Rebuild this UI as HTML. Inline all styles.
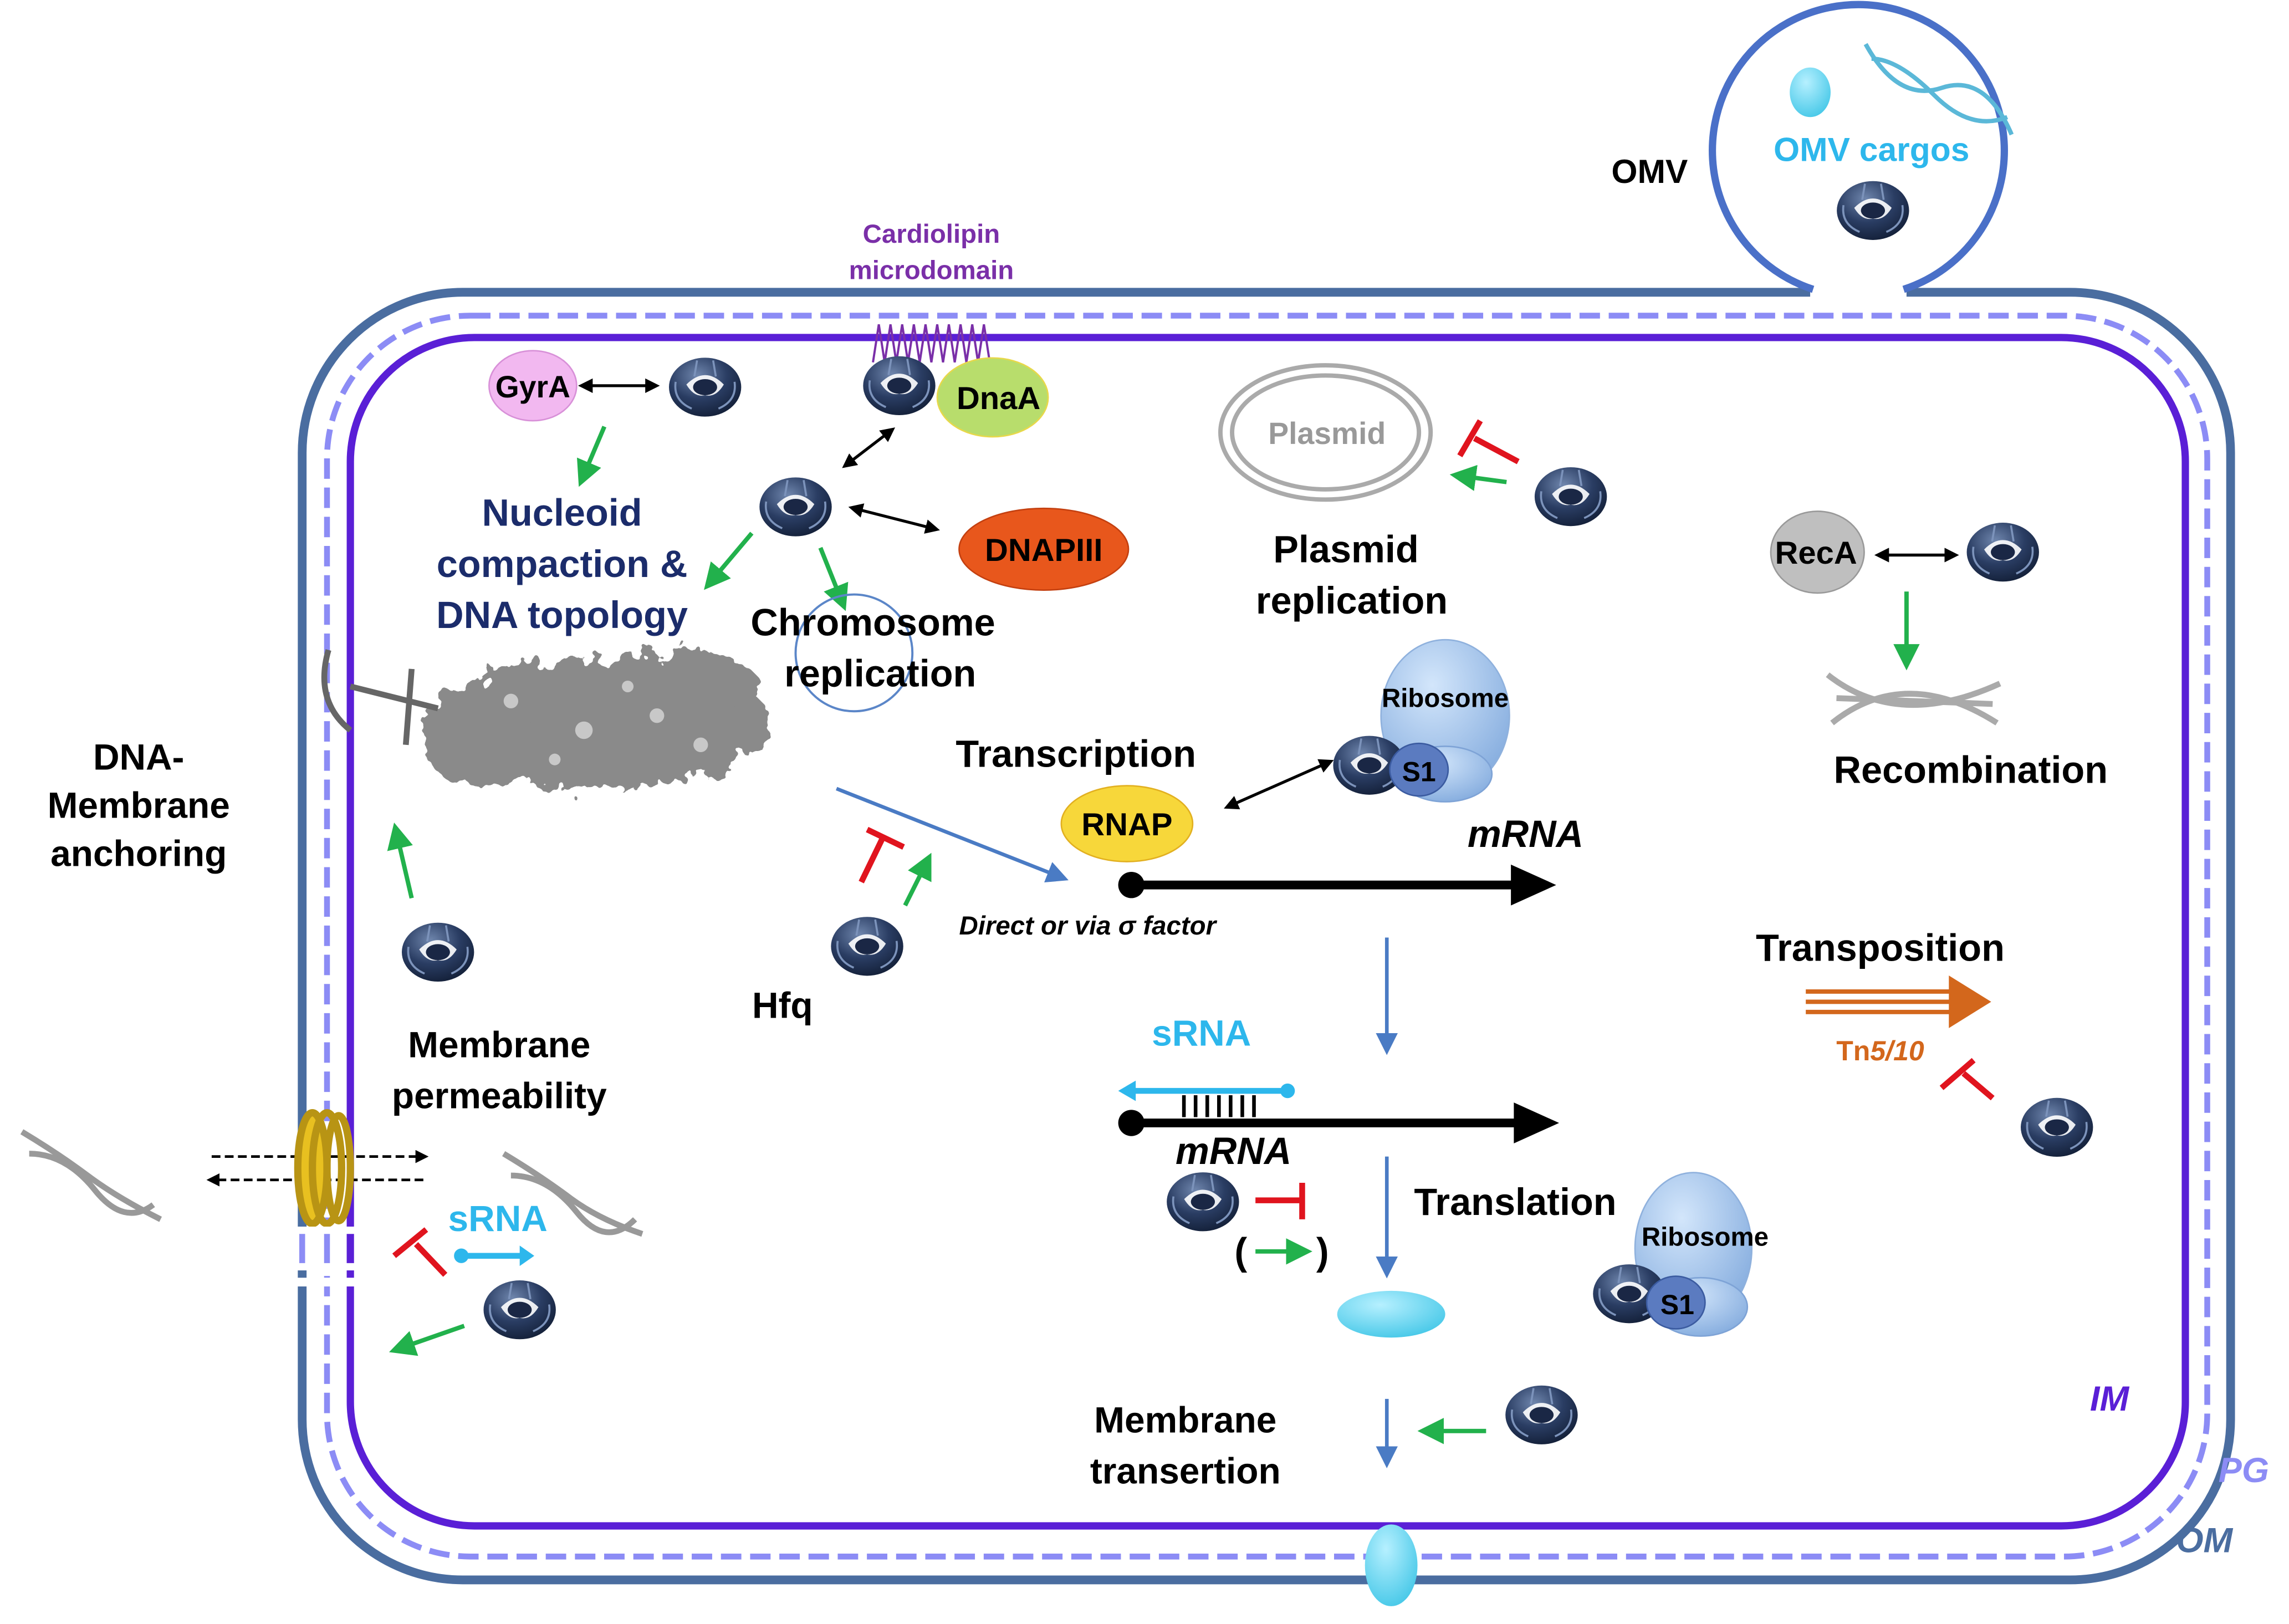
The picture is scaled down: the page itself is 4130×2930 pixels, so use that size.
<!DOCTYPE html>
<html><head><meta charset="utf-8"><style>
html,body{margin:0;padding:0;background:#fff}
svg{display:block}
text{font-family:"Liberation Sans",sans-serif;font-weight:bold}
</style></head><body>
<svg width="4130" height="2930" viewBox="0 0 1568 1112" xmlns="http://www.w3.org/2000/svg">
<defs>
<radialGradient id="hg" cx="0.4" cy="0.3" r="0.8"><stop offset="0" stop-color="#6f86ad"/><stop offset="0.5" stop-color="#2a3d63"/><stop offset="1" stop-color="#0f1a30"/></radialGradient>
<symbol id="hfq" viewBox="-30 -24 60 48" overflow="visible">
<ellipse cx="0" cy="0" rx="27" ry="22" fill="url(#hg)"/>
<path d="M-14,-2 Q0,-16 14,-2 Q8,8 0,6 Q-8,8 -14,-2Z" fill="#fff" opacity="0.9"/>
<ellipse cx="0" cy="0" rx="9" ry="6" fill="#1a2745"/>
<path d="M-22,-4 Q-24,10 -10,16 M22,-4 Q24,10 10,16 M-6,-20 L-8,-8 M6,-20 L8,-8" stroke="#7c93bb" stroke-width="1.5" fill="none"/>
</symbol>
<marker id="ga" markerWidth="6" markerHeight="6" refX="3" refY="3" orient="auto"><path d="M0,0 L6,3 L0,6Z" fill="#22b14c"/></marker>
<marker id="ba" markerWidth="6" markerHeight="6" refX="3" refY="3" orient="auto"><path d="M0,0 L6,3 L0,6Z" fill="#4a7bc4"/></marker>
<marker id="ka" markerWidth="5" markerHeight="5" refX="3" refY="2.5" orient="auto-start-reverse"><path d="M0,0 L5,2.5 L0,5Z" fill="#000"/></marker>
<filter id="rough"><feTurbulence type="fractalNoise" baseFrequency="0.08" numOctaves="3" result="n"/><feDisplacementMap in="SourceGraphic" in2="n" scale="25"/></filter>
<radialGradient id="rg" cx="0.4" cy="0.3" r="0.8"><stop offset="0" stop-color="#d3e6fb"/><stop offset="1" stop-color="#7fa8dc"/></radialGradient>
<radialGradient id="cg" cx="0.4" cy="0.3" r="0.8"><stop offset="0" stop-color="#b6f0ff"/><stop offset="1" stop-color="#3ec5e6"/></radialGradient>
</defs>

<!-- membranes -->
<rect x="207" y="200" width="1321" height="882" rx="110" fill="none" stroke="#4a6da0" stroke-width="6"/>
<rect x="224" y="216" width="1288" height="850" rx="98" fill="none" stroke="#8c8cf5" stroke-width="4" stroke-dasharray="14,6"/>
<rect x="240" y="231" width="1257" height="814" rx="85" fill="none" stroke="#5a1fd6" stroke-width="5"/>
<!-- OMV -->
<rect x="1240" y="190" width="66" height="20" fill="#fff"/>
<path d="M1242,198 A100,100 0 1 1 1304,198" fill="none" stroke="#4a70c8" stroke-width="5"/>
<ellipse cx="1240" cy="63" rx="14" ry="17" fill="url(#cg)"/>
<g stroke="#5bb8d8" stroke-width="3" fill="none"><path d="M1278,30 Q1300,70 1330,60 T1378,92"/><path d="M1282,40 Q1300,40 1325,65 T1375,80"/></g>
<text x="1130" y="125" font-size="23" text-anchor="middle">OMV</text>
<text x="1282" y="110" font-size="23" text-anchor="middle" fill="#2db7ec">OMV cargos</text>
<use href="#hfq" x="1255" y="122" width="56" height="44"/>

<!-- cardiolipin -->
<text x="638" y="166" font-size="18" fill="#7a2fa8" text-anchor="middle">Cardiolipin</text>
<text x="638" y="191" font-size="18" fill="#7a2fa8" text-anchor="middle">microdomain</text>
<g stroke="#7a2fa8" stroke-width="1.5"><path d="M598,248 L602,222 L606,248 L610,222 L614,248 L618,222 L622,248 L626,222 L630,248 L634,222 L638,248 L642,222 L646,248 L650,222 L654,248 L658,222 L662,248 L666,222 L670,248 L674,222 L678,248" fill="none"/></g>

<!-- GyrA -->
<ellipse cx="365" cy="264" rx="30" ry="24" fill="#f2b8f0" stroke="#d890d8"/>
<text x="365" y="272" font-size="21" text-anchor="middle">GyrA</text>
<line x1="400" y1="264" x2="448" y2="264" stroke="#000" stroke-width="2" marker-start="url(#ka)" marker-end="url(#ka)"/>
<use href="#hfq" x="455" y="243" width="56" height="44"/>
<line x1="414" y1="292" x2="400" y2="325" stroke="#22b14c" stroke-width="3" marker-end="url(#ga)"/>
<text x="385" y="360" font-size="26" fill="#1b2c6b" text-anchor="middle">Nucleoid</text>
<text x="385" y="395" font-size="26" fill="#1b2c6b" text-anchor="middle">compaction &amp;</text>
<text x="385" y="430" font-size="26" fill="#1b2c6b" text-anchor="middle">DNA topology</text>

<!-- DnaA -->
<ellipse cx="680" cy="272" rx="38" ry="27" fill="#b8dd6c" stroke="#e8d84a"/>
<text x="684" y="280" font-size="22" text-anchor="middle">DnaA</text>
<use href="#hfq" x="588" y="242" width="56" height="44"/>
<line x1="610" y1="295" x2="580" y2="318" stroke="#000" stroke-width="2" marker-start="url(#ka)" marker-end="url(#ka)"/>
<use href="#hfq" x="517" y="325" width="56" height="44"/>
<line x1="585" y1="348" x2="640" y2="362" stroke="#000" stroke-width="2" marker-start="url(#ka)" marker-end="url(#ka)"/>
<ellipse cx="715" cy="376" rx="58" ry="28" fill="#e8571c" stroke="#c44010"/>
<text x="715" y="384" font-size="22" text-anchor="middle">DNAPIII</text>
<line x1="515" y1="365" x2="488" y2="397" stroke="#22b14c" stroke-width="3" marker-end="url(#ga)"/>
<line x1="562" y1="375" x2="576" y2="410" stroke="#22b14c" stroke-width="3" marker-end="url(#ga)"/>
<circle cx="585" cy="447" r="40" fill="none" stroke="#5b86c8" stroke-width="1.5"/>
<text x="598" y="435" font-size="26" text-anchor="middle">Chromosome</text>
<text x="603" y="470" font-size="26" text-anchor="middle">replication</text>

<!-- nucleoid -->
<g filter="url(#rough)" fill="#8a8a8a">
<ellipse cx="410" cy="495" rx="118" ry="45"/>
<ellipse cx="470" cy="470" rx="50" ry="25"/>
<ellipse cx="330" cy="510" rx="40" ry="28"/>
</g>
<g fill="#c8c8c8"><circle cx="350" cy="480" r="5"/><circle cx="400" cy="500" r="6"/><circle cx="450" cy="490" r="5"/><circle cx="380" cy="520" r="4"/><circle cx="480" cy="510" r="5"/><circle cx="430" cy="470" r="4"/></g>
<g stroke="#666" stroke-width="4" fill="none"><path d="M225,445 Q215,480 240,500"/><line x1="240" y1="470" x2="300" y2="485"/><line x1="282" y1="458" x2="278" y2="510"/></g>
<text x="95" y="527" font-size="25" text-anchor="middle">DNA-</text>
<text x="95" y="560" font-size="25" text-anchor="middle">Membrane</text>
<text x="95" y="593" font-size="25" text-anchor="middle">anchoring</text>
<line x1="282" y1="615" x2="272" y2="572" stroke="#22b14c" stroke-width="3" marker-end="url(#ga)"/>
<use href="#hfq" x="272" y="630" width="56" height="44"/>
<text x="342" y="724" font-size="25" text-anchor="middle">Membrane</text>
<text x="342" y="759" font-size="25" text-anchor="middle">permeability</text>

<!-- pore & DNA -->
<g stroke="#999" stroke-width="4" fill="none"><path d="M15,775 Q40,790 60,805 T110,835"/><path d="M20,790 Q45,790 65,815 T105,825"/>
<path d="M345,790 Q370,805 390,820 T440,845"/><path d="M350,805 Q375,805 395,830 T435,835"/></g>
<g stroke="#000" stroke-width="1.8" stroke-dasharray="6,3"><line x1="145" y1="792" x2="290" y2="792" marker-end="url(#ka)"/><line x1="290" y1="808" x2="145" y2="808" marker-end="url(#ka)"/></g>
<g fill="none" stroke="#b89414" stroke-width="5"><ellipse cx="214" cy="800" rx="10" ry="38" fill="#e8c020"/><ellipse cx="224" cy="800" rx="10" ry="38"/><ellipse cx="232" cy="800" rx="8" ry="36"/></g>
<rect x="200" y="840" width="50" height="30" fill="#fff"/>
<g stroke="#8c8cf5" stroke-width="4"><line x1="207" y1="845" x2="207" y2="865"/><line x1="224" y1="845" x2="224" y2="865"/></g>
<line x1="240" y1="845" x2="240" y2="865" stroke="#5a1fd6" stroke-width="5"/>
<g stroke="#fff" stroke-width="6"><line x1="200" y1="878" x2="250" y2="878"/></g>
<text x="341" y="843" font-size="25" fill="#2db7ec" text-anchor="middle">sRNA</text>
<line x1="320" y1="860" x2="358" y2="860" stroke="#2db7ec" stroke-width="4"/><circle cx="316" cy="860" r="5" fill="#2db7ec"/><path d="M356,853 L366,860 L356,867Z" fill="#2db7ec"/>
<g stroke="#e0141e" stroke-width="4"><line x1="305" y1="873" x2="285" y2="852"/><line x1="270" y1="860" x2="292" y2="842"/></g>
<use href="#hfq" x="328" y="875" width="56" height="44"/>
<line x1="318" y1="908" x2="275" y2="923" stroke="#22b14c" stroke-width="3" marker-end="url(#ga)"/>

<!-- Plasmid -->
<ellipse cx="908" cy="296" rx="72" ry="46" fill="none" stroke="#aaa" stroke-width="3"/>
<ellipse cx="908" cy="296" rx="64" ry="39" fill="none" stroke="#aaa" stroke-width="3"/>
<text x="909" y="304" font-size="21" fill="#999" text-anchor="middle">Plasmid</text>
<g stroke="#e0141e" stroke-width="4"><line x1="1040" y1="316" x2="1010" y2="300"/><line x1="1000" y1="312" x2="1014" y2="288"/></g>
<line x1="1032" y1="330" x2="1002" y2="326" stroke="#22b14c" stroke-width="3" marker-end="url(#ga)"/>
<use href="#hfq" x="1048" y="318" width="56" height="44"/>
<text x="922" y="385" font-size="26" text-anchor="middle">Plasmid</text>
<text x="926" y="420" font-size="26" text-anchor="middle">replication</text>

<!-- RecA -->
<ellipse cx="1245" cy="378" rx="32" ry="28" fill="#bfbfbf" stroke="#999"/>
<text x="1244" y="386" font-size="22" text-anchor="middle">RecA</text>
<line x1="1288" y1="380" x2="1338" y2="380" stroke="#000" stroke-width="2" marker-start="url(#ka)" marker-end="url(#ka)"/>
<use href="#hfq" x="1344" y="356" width="56" height="44"/>
<line x1="1306" y1="405" x2="1306" y2="450" stroke="#22b14c" stroke-width="3" marker-end="url(#ga)"/>
<g stroke="#aaa" stroke-width="4" fill="none"><path d="M1252,462 Q1300,500 1370,468"/><path d="M1255,495 Q1305,455 1368,495"/><path d="M1258,478 L1365,482"/></g>
<text x="1350" y="536" font-size="26" text-anchor="middle">Recombination</text>

<!-- Ribosome top -->
<ellipse cx="990" cy="490" rx="44" ry="52" fill="url(#rg)" stroke="#8fb1dd"/>
<ellipse cx="990" cy="530" rx="32" ry="19" fill="url(#rg)" stroke="#7ea3d6"/>
<text x="990" y="484" font-size="18" text-anchor="middle">Ribosome</text>
<use href="#hfq" x="910" y="502" width="56" height="44"/>
<ellipse cx="972" cy="527" rx="20" ry="18" fill="#5b7bc0" stroke="#3b5ba0"/>
<text x="972" y="535" font-size="19" text-anchor="middle">S1</text>
<line x1="910" y1="522" x2="842" y2="552" stroke="#000" stroke-width="2" marker-start="url(#ka)" marker-end="url(#ka)"/>
<text x="737" y="525" font-size="26" text-anchor="middle">Transcription</text>
<ellipse cx="772" cy="564" rx="45" ry="26" fill="#f7d73a" stroke="#e2b020"/>
<text x="772" y="572" font-size="22" text-anchor="middle">RNAP</text>
<line x1="573" y1="540" x2="725" y2="600" stroke="#4a7bc4" stroke-width="2.5" marker-end="url(#ba)"/>
<circle cx="775" cy="606" r="9" fill="#000"/><line x1="775" y1="606" x2="1040" y2="606" stroke="#000" stroke-width="6"/><path d="M1035,592 L1066,606 L1035,620Z" fill="#000"/>
<text x="1045" y="580" font-size="26" font-style="italic" text-anchor="middle">mRNA</text>
<text x="745" y="640" font-size="18" font-style="italic" text-anchor="middle">Direct or via σ factor</text>
<g stroke="#e0141e" stroke-width="4"><line x1="605" y1="573" x2="590" y2="604"/><line x1="594" y1="568" x2="619" y2="580"/></g>
<line x1="620" y1="620" x2="634" y2="592" stroke="#22b14c" stroke-width="3" marker-end="url(#ga)"/>
<use href="#hfq" x="566" y="626" width="56" height="44"/>
<text x="536" y="697" font-size="25" text-anchor="middle">Hfq</text>

<!-- center flow -->
<line x1="950" y1="642" x2="950" y2="715" stroke="#4a7bc4" stroke-width="2.5" marker-end="url(#ba)"/>
<text x="823" y="716" font-size="25" fill="#2db7ec" text-anchor="middle">sRNA</text>
<line x1="775" y1="747" x2="880" y2="747" stroke="#2db7ec" stroke-width="4"/><circle cx="882" cy="747" r="5" fill="#2db7ec"/><path d="M778,740 L766,747 L778,754Z" fill="#2db7ec"/>
<g stroke="#000" stroke-width="2.5"><line x1="811" y1="750" x2="811" y2="765"/><line x1="819" y1="750" x2="819" y2="765"/><line x1="827" y1="750" x2="827" y2="765"/><line x1="835" y1="750" x2="835" y2="765"/><line x1="843" y1="750" x2="843" y2="765"/><line x1="851" y1="750" x2="851" y2="765"/><line x1="859" y1="750" x2="859" y2="765"/></g>
<circle cx="775" cy="769" r="9" fill="#000"/><line x1="775" y1="769" x2="1042" y2="769" stroke="#000" stroke-width="6"/><path d="M1037,755 L1068,769 L1037,783Z" fill="#000"/>
<text x="845" y="797" font-size="26" font-style="italic" text-anchor="middle">mRNA</text>
<use href="#hfq" x="796" y="801" width="56" height="44"/>
<g stroke="#e0141e" stroke-width="4"><line x1="860" y1="822" x2="892" y2="822"/><line x1="892" y1="810" x2="892" y2="835"/></g>
<text x="850" y="866" font-size="26" font-weight="normal" text-anchor="middle">(</text>
<text x="906" y="866" font-size="26" font-weight="normal" text-anchor="middle">)</text>
<line x1="860" y1="857" x2="890" y2="857" stroke="#22b14c" stroke-width="3" marker-end="url(#ga)"/>
<line x1="950" y1="792" x2="950" y2="868" stroke="#4a7bc4" stroke-width="2.5" marker-end="url(#ba)"/>
<text x="1038" y="832" font-size="26" text-anchor="middle">Translation</text>
<ellipse cx="953" cy="900" rx="37" ry="16" fill="url(#cg)"/>
<ellipse cx="1160" cy="855" rx="40" ry="52" fill="url(#rg)" stroke="#8fb1dd"/>
<ellipse cx="1165" cy="895" rx="32" ry="20" fill="url(#rg)" stroke="#7ea3d6"/>
<text x="1168" y="853" font-size="18" text-anchor="middle">Ribosome</text>
<use href="#hfq" x="1088" y="864" width="56" height="44"/>
<ellipse cx="1148" cy="892" rx="20" ry="18" fill="#5b7bc0" stroke="#3b5ba0"/>
<text x="1149" y="900" font-size="19" text-anchor="middle">S1</text>
<line x1="950" y1="958" x2="950" y2="998" stroke="#4a7bc4" stroke-width="2.5" marker-end="url(#ba)"/>
<line x1="1018" y1="980" x2="980" y2="980" stroke="#22b14c" stroke-width="3" marker-end="url(#ga)"/>
<use href="#hfq" x="1028" y="947" width="56" height="44"/>
<text x="812" y="981" font-size="25" text-anchor="middle">Membrane</text>
<text x="812" y="1016" font-size="25" text-anchor="middle">transertion</text>
<ellipse cx="953" cy="1072" rx="18" ry="28" fill="url(#cg)"/>

<!-- Transposition -->
<text x="1288" y="658" font-size="26" text-anchor="middle">Transposition</text>
<g stroke="#d3671c" stroke-width="3"><line x1="1237" y1="679" x2="1340" y2="679"/><line x1="1237" y1="686" x2="1340" y2="686"/><line x1="1237" y1="693" x2="1340" y2="693"/></g>
<path d="M1335,668 L1364,686 L1335,704Z" fill="#d3671c"/>
<text x="1288" y="726" font-size="19" fill="#d3671c" text-anchor="middle">Tn<tspan font-style="italic">5/10</tspan></text>
<g stroke="#e0141e" stroke-width="4"><line x1="1365" y1="752" x2="1345" y2="735"/><line x1="1330" y1="745" x2="1352" y2="726"/></g>
<use href="#hfq" x="1381" y="750" width="56" height="44"/>

<!-- labels -->
<text x="1445" y="966" font-size="24" font-style="italic" fill="#5a1fd6" text-anchor="middle">IM</text>
<text x="1537" y="1015" font-size="24" font-style="italic" fill="#8c8cf5" text-anchor="middle">PG</text>
<text x="1510" y="1063" font-size="24" font-style="italic" fill="#4a6da0" text-anchor="middle">OM</text>
</svg>
</body></html>
